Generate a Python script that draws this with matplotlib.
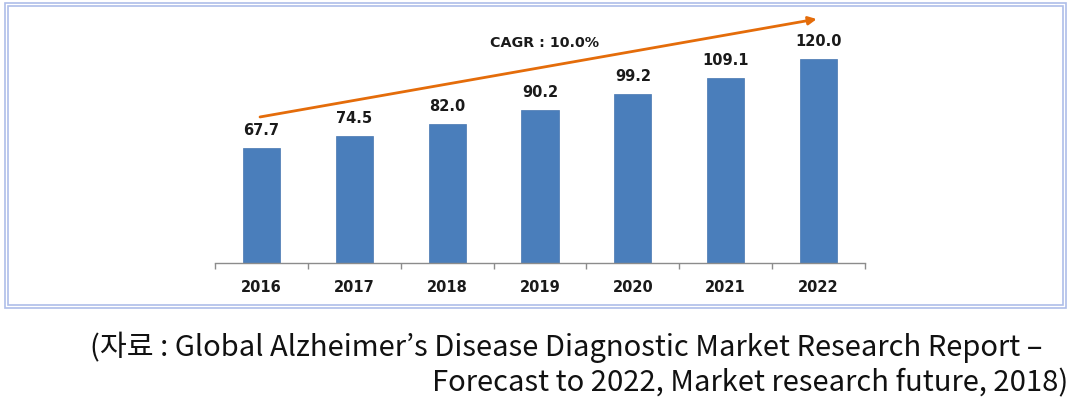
import matplotlib
matplotlib.use("Agg")
import matplotlib.pyplot as plt
from matplotlib.patches import Rectangle

years = ["2016", "2017", "2018", "2019", "2020", "2021", "2022"]
values = [67.7, 74.5, 82.0, 90.2, 99.2, 109.1, 120.0]
value_labels = ["67.7", "74.5", "82.0", "90.2", "99.2", "109.1", "120.0"]
cagr_text = "CAGR : 10.0%"
caption_line1 = "(자료 : Global Alzheimer’s Disease Diagnostic Market Research Report –"
caption_line2 = "Forecast to 2022, Market research future, 2018)"

plt.rcParams["font.family"] = ["DejaVu Sans"]

W, H = 1078, 408
fig = plt.figure(figsize=(W / 100, H / 100), dpi=100)

# double light-blue border around chart
border_col = "#aebde9"
for (x0, y0, x1, y1) in [(5, 3, 1066, 308), (8, 6, 1063, 305)]:
    fig.patches.append(Rectangle((x0 / W, 1 - y1 / H), (x1 - x0) / W, (y1 - y0) / H,
                                 transform=fig.transFigure, fill=False,
                                 edgecolor=border_col, linewidth=1.2))

ax = fig.add_axes([215 / W, (H - 263) / H, 650 / W, 246.5 / H])
x = list(range(len(years)))
ax.bar(x, values, width=0.4, color="#4a7ebb", edgecolor="#4675b0", linewidth=0.5)
ax.set_xlim(-0.5, len(years) - 0.5)
ax.set_ylim(0, 145)

lab_font = dict(family="DejaVu Sans", fontweight="bold", color="#1a1a1a")
for xi, v, lab in zip(x, values, value_labels):
    ax.annotate(lab, (xi, v), xytext=(0, 7.2), textcoords="offset points",
                ha="center", va="bottom", fontsize=10.5, **lab_font)

# axis styling
for s in ["top", "right", "left"]:
    ax.spines[s].set_visible(False)
ax.spines["bottom"].set_color("#8c8c8c")
ax.spines["bottom"].set_linewidth(1.0)
ax.set_yticks([])
ax.set_xticks([i - 0.5 for i in range(len(years) + 1)], minor=False)
ax.set_xticklabels([])
ax.tick_params(axis="x", which="major", length=4, color="#8c8c8c", width=1.0)
ax.set_xticks(x, minor=True)
ax.set_xticklabels(years, minor=True, fontsize=10.5, fontweight="bold",
                   color="#1a1a1a", family="DejaVu Sans")
ax.tick_params(axis="x", which="minor", length=0, pad=12)

# CAGR arrow
ax.annotate("", xy=(5.98, 143.5), xytext=(-0.015, 85.9),
            arrowprops=dict(arrowstyle="-|>", color="#e46c0a", lw=2.0,
                            mutation_scale=12, shrinkA=0, shrinkB=0),
            annotation_clip=False)
ax.text(3.05, 129.4, cagr_text, ha="center", va="center", fontsize=10.3, **lab_font)

fams = ["Noto Sans CJK KR", "DejaVu Sans"]
fig.text(1043 / W, 1 - 347 / H, caption_line1, ha="right", va="center",
         fontsize=21, family=fams, color="#111111")
fig.text(1068 / W, 1 - 383 / H, caption_line2, ha="right", va="center",
         fontsize=21, family=fams, color="#111111")

fig.savefig("out.png", dpi=100, facecolor="white")
